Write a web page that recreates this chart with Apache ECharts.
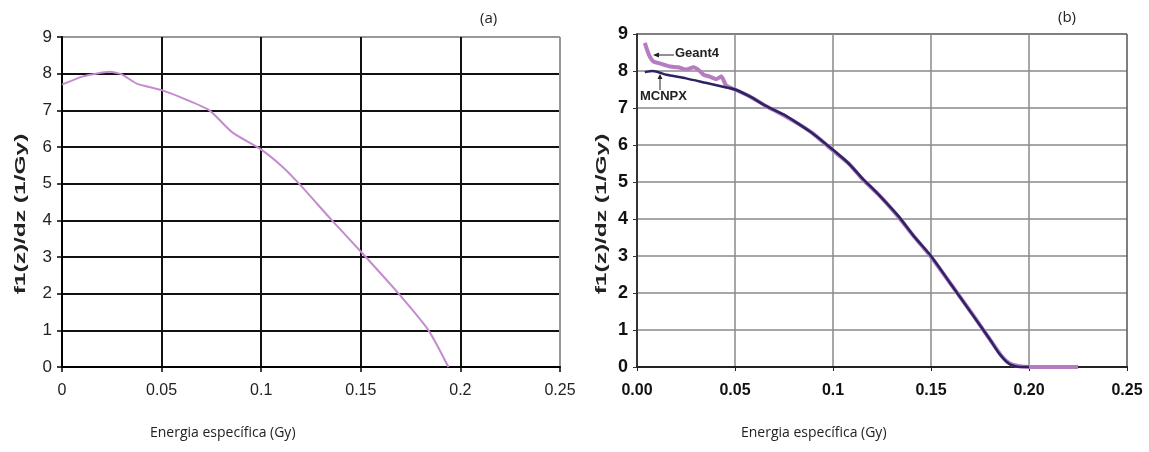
<!DOCTYPE html>
<html>
<head>
<meta charset="utf-8">
<script src="https://cdn.jsdelivr.net/npm/echarts@6/dist/echarts.min.js"></script>
<style>
  html, body { margin: 0; padding: 0; background: #fff; }
  #main { width: 1149px; height: 452px; }
</style>
</head>
<body>
<div id="main"></div>
<script>
// (a) analytic curve
var aX = [0, 0.01, 0.015, 0.024, 0.03, 0.0375, 0.05, 0.062, 0.074, 0.0855, 0.1, 0.1105, 0.119, 0.1355, 0.1525, 0.169, 0.184, 0.194];
var aY = [7.7, 7.92, 7.98, 8.05, 7.98, 7.73, 7.55, 7.3, 7.0, 6.4, 5.93, 5.47, 5.0, 4.0, 3.0, 2.0, 1.0, 0];

// (b) Geant4
var gX = [0.004, 0.006, 0.0083, 0.012, 0.017, 0.021, 0.025, 0.029, 0.032, 0.034, 0.037, 0.0405, 0.043, 0.0456, 0.05, 0.058, 0.066, 0.075, 0.083, 0.09, 0.1, 0.108, 0.115, 0.124, 0.1335, 0.141, 0.15, 0.16, 0.1707, 0.18, 0.186, 0.19, 0.195, 0.2, 0.21, 0.225];
var gY = [8.76, 8.45, 8.26, 8.2, 8.12, 8.1, 8.04, 8.1, 8.0, 7.9, 7.85, 7.78, 7.85, 7.6, 7.5, 7.3, 7.05, 6.8, 6.55, 6.3, 5.85, 5.5, 5.08, 4.62, 4.05, 3.55, 2.98, 2.25, 1.46, 0.75, 0.3, 0.1, 0.02, 0, 0, 0];

// (b) MCNPX
var mX = [0.004, 0.008, 0.015, 0.025, 0.035, 0.045, 0.05, 0.058, 0.066, 0.075, 0.083, 0.09, 0.1, 0.108, 0.115, 0.124, 0.1335, 0.141, 0.15, 0.16, 0.1707, 0.18, 0.185, 0.19, 0.195, 0.2];
var mY = [7.97, 8.0, 7.9, 7.8, 7.68, 7.56, 7.5, 7.3, 7.05, 6.82, 6.55, 6.3, 5.87, 5.5, 5.1, 4.62, 4.07, 3.55, 3.0, 2.25, 1.45, 0.75, 0.35, 0.08, 0.0, 0];

var xTicksA = ['0', '0.05', '0.1', '0.15', '0.2', '0.25'];
var xTicksB = ['0.00', '0.05', '0.1', '0.15', '0.20', '0.25'];

function pairs(xs, ys) {
    return xs.map(function (x, i) { return [x, ys[i]]; });
}

var chart = echarts.init(document.getElementById('main'));

var hGridA = [];   // black lines, gray top border
for (var i = 0; i < 9; i++) hGridA.push('#111');
hGridA.push('#999');
var vGridA = ['#111', '#111', '#111', '#111', '#111', '#999'];
var hGridB = [];
for (var j = 0; j < 9; j++) hGridB.push('#8a8a8a');
hGridB.push('#555');
var vGridB = ['#8a8a8a', '#8a8a8a', '#8a8a8a', '#8a8a8a', '#8a8a8a', '#555'];

// stretched rotated axis title, like the scanned figure
function yTitle(x, y) {
    return {
        type: 'text', x: x, y: y, rotation: Math.PI / 2, scaleX: 1.75,
        style: {
            text: 'f1(z)/dz (1/Gy)', fontSize: 14, fontWeight: 'bold', fill: '#222',
            fontFamily: 'Liberation Sans', align: 'center', verticalAlign: 'middle'
        }
    };
}

var option = {
    animation: false,
    backgroundColor: '#fff',
    grid: [
        {left: 62, right: 589, top: 37, bottom: 85},
        {left: 637, right: 22, top: 34, bottom: 85}
    ],
    xAxis: [
        {
            gridIndex: 0, type: 'value', min: 0, max: 0.25, interval: 0.05,
            axisLine: {lineStyle: {color: '#000', width: 2}},
            axisTick: {show: true, length: 5, lineStyle: {color: '#000', width: 1.5}},
            axisLabel: {
                color: '#222', fontSize: 16, fontFamily: 'Liberation Sans', margin: 16,
                formatter: function (v, idx) { return xTicksA[idx]; }
            },
            splitLine: {show: true, lineStyle: {color: vGridA, width: 2}}
        },
        {
            gridIndex: 1, type: 'value', min: 0, max: 0.25, interval: 0.05,
            axisLine: {lineStyle: {color: '#222', width: 2}},
            axisTick: {show: true, length: 4, lineStyle: {color: '#222'}},
            axisLabel: {
                color: '#111', fontSize: 16, fontWeight: 'bold', fontFamily: 'Liberation Sans', margin: 16,
                formatter: function (v, idx) { return xTicksB[idx]; }
            },
            splitLine: {show: true, lineStyle: {color: vGridB, width: 1.5}}
        }
    ],
    yAxis: [
        {
            gridIndex: 0, type: 'value', min: 0, max: 9, interval: 1,
            axisLine: {show: true, lineStyle: {color: '#000', width: 2}},
            axisTick: {show: true, length: 5, lineStyle: {color: '#000', width: 1.5}},
            axisLabel: {color: '#222', fontSize: 17, fontFamily: 'Liberation Sans', margin: 10},
            splitLine: {show: true, lineStyle: {color: hGridA, width: 2}}
        },
        {
            gridIndex: 1, type: 'value', min: 0, max: 9, interval: 1,
            axisLine: {show: true, lineStyle: {color: '#333', width: 2}},
            axisTick: {show: true, length: 4, lineStyle: {color: '#333'}},
            axisLabel: {color: '#111', fontSize: 18, fontWeight: 'bold', fontFamily: 'Liberation Sans', margin: 9},
            splitLine: {show: true, lineStyle: {color: hGridB, width: 1.5}}
        }
    ],
    series: [
        {
            name: 'a', type: 'line', xAxisIndex: 0, yAxisIndex: 0,
            data: pairs(aX, aY), showSymbol: false, smooth: 0.2,
            lineStyle: {color: '#c48ccf', width: 2}
        },
        {
            name: 'Geant4', type: 'line', xAxisIndex: 1, yAxisIndex: 1,
            data: pairs(gX, gY), showSymbol: false, smooth: 0.2,
            lineStyle: {color: '#b57cc2', width: 4}
        },
        {
            name: 'MCNPX', type: 'line', xAxisIndex: 1, yAxisIndex: 1,
            data: pairs(mX, mY), showSymbol: false, smooth: 0.2,
            lineStyle: {color: '#2b2463', width: 2.5}
        }
    ],
    graphic: [
        yTitle(21, 214),
        yTitle(602, 214),
        {type: 'text', left: 480, top: 11, style: {text: '(a)', fontSize: 15, fill: '#222', fontFamily: 'Open Sans'}},
        {type: 'text', left: 1058, top: 10, style: {text: '(b)', fontSize: 15, fill: '#222', fontFamily: 'Open Sans'}},
        {type: 'text', left: 150, top: 426, style: {text: 'Energia específica (Gy)', fontSize: 14, fill: '#222', fontFamily: 'Open Sans'}},
        {type: 'text', left: 741, top: 426, style: {text: 'Energia específica (Gy)', fontSize: 14, fill: '#222', fontFamily: 'Open Sans'}},
        {type: 'text', left: 675, top: 47, style: {text: 'Geant4', fontSize: 13, fontWeight: 'bold', fill: '#222', fontFamily: 'Liberation Sans'}},
        {type: 'line', shape: {x1: 655, y1: 55, x2: 674, y2: 55}, style: {stroke: '#222', lineWidth: 1}},
        {type: 'polygon', shape: {points: [[653, 55], [659, 52.5], [659, 57.5]]}, style: {fill: '#222'}},
        {type: 'text', left: 640, top: 90, style: {text: 'MCNPX', fontSize: 13, fontWeight: 'bold', fill: '#222', fontFamily: 'Liberation Sans'}},
        {type: 'line', shape: {x1: 660, y1: 77, x2: 660, y2: 90}, style: {stroke: '#222', lineWidth: 1}},
        {type: 'polygon', shape: {points: [[660, 74], [657.5, 79], [662.5, 79]]}, style: {fill: '#222'}}
    ]
};

chart.setOption(option, true);
</script>
</body>
</html>
